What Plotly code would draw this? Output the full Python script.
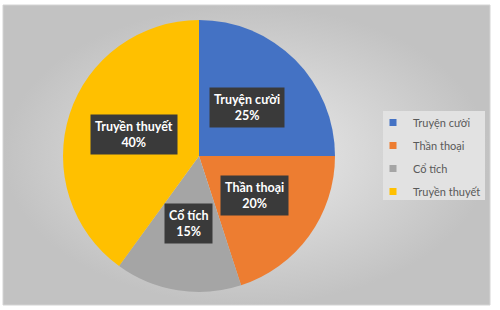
import math
import plotly.graph_objects as go

categories = ["Truyện cười", "Thần thoại", "Cổ tích", "Truyền thuyết"]
values = [25, 20, 15, 40]
colors = ["#4472C4", "#ED7D31", "#A5A5A5", "#FFC000"]

W, H = 500, 310
CX, CY, R = 199, 156, 136  # pie centre / radius in pixels

fig = go.Figure()

# chart-area background with radial gradient
fig.add_trace(go.Scatter(
    x=[3, 490, 490, 3, 3], y=[5, 5, 305, 305, 5],
    mode="lines", fill="toself",
    line=dict(color="#d4d4d4", width=1),
    fillgradient=dict(type="radial", colorscale=[[0, "#ececec"], [1, "#c2c2c2"]]),
    hoverinfo="skip", showlegend=False,
))

fig.add_trace(go.Pie(
    labels=categories, values=values, sort=False, direction="clockwise", rotation=0,
    marker=dict(colors=colors, line=dict(width=0)),
    textinfo="none", hoverinfo="label+percent", showlegend=False,
    domain=dict(x=[(CX - R) / W, (CX + R) / W], y=[1 - (CY + R) / H, 1 - (CY - R) / H]),
))

# legend entries (square swatches)
for cat, col in zip(categories, colors):
    fig.add_trace(go.Scatter(
        x=[None], y=[None], mode="markers", name=cat, legendgroup=cat,
        marker=dict(symbol="square", size=7, color=col),
    ))

# data labels in dark boxes at the mid-angle of each slice
total = sum(values)
cum = 0
for cat, v in zip(categories, values):
    mid = (cum + v / 2) / total * 2 * math.pi
    cum += v
    ax = CX + 0.5 * R * math.sin(mid)
    ay = CY - 0.5 * R * math.cos(mid)
    fig.add_annotation(
        x=ax, y=ay, xref="x", yref="y", showarrow=False,
        text=f"<b>{cat}</b><br><b>{round(v / total * 100)}%</b>",
        font=dict(family="Lato, Noto Sans, sans-serif", size=12.5, color="white"),
        bgcolor="#3a3a3a", borderpad=4, align="center",
    )

# legend background box
fig.add_shape(type="rect", xref="x", yref="y", x0=383, x1=485, y0=111, y1=200,
              fillcolor="#e2e2e2", line=dict(width=0), layer="above")

fig.update_layout(
    width=W, height=H, margin=dict(l=0, r=0, t=0, b=0),
    paper_bgcolor="white", plot_bgcolor="rgba(0,0,0,0)",
    xaxis=dict(range=[0, W], visible=False, fixedrange=True),
    yaxis=dict(range=[H, 0], visible=False, fixedrange=True),
    showlegend=True,
    legend=dict(
        x=373 / W, y=1 - 108 / H, xanchor="left", yanchor="top",
        bgcolor="rgba(0,0,0,0)", font=dict(family="Lato, Noto Sans, sans-serif", size=11, color="#595959"),
        itemwidth=30, tracegroupgap=4,
    ),
)

fig.write_html("out.html")
